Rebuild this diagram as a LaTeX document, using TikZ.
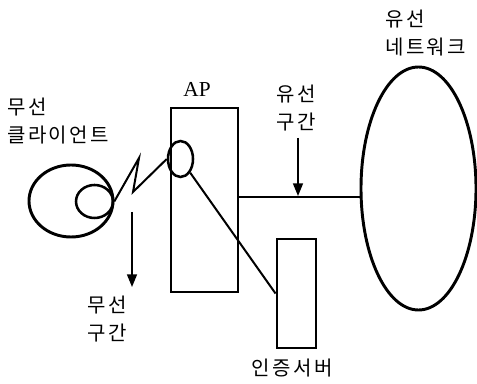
\documentclass[tikz,border=0pt]{standalone}
\usepackage{fontspec}
\setmainfont{Liberation Serif}
\newfontfamily\kr[LetterSpace=12]{Noto Sans CJK KR}
\usetikzlibrary{shapes.geometric,arrows.meta}
\tikzset{
  box/.style={draw, line width=2.2pt, inner sep=0pt},
  oval/.style={ellipse, draw, line width=2.2pt, inner sep=0pt},
  lbl/.style={font=\kr\fontsize{15}{21}\selectfont, align=left, inner sep=0pt},
  link/.style={line width=1.5pt},
  tip/.style={line width=1.2pt, -{Triangle[width=7.5pt,length=9.5pt]}}
}
\begin{document}
\begin{tikzpicture}[x=0.75pt, y=-0.75pt]
        \useasboundingbox (0,0) rectangle (477,384);

        % Client
        \node[oval, minimum width=63pt, minimum height=54pt] (client) at (71,201) {};
        \node[oval, line width=1.9pt, minimum width=27.75pt, minimum height=24.75pt] (card) at (94.5,201.5) {};
        \node[lbl, anchor=north west] (clientlbl) at (7,98) {무선\\클라이언트};

        % AP
        \node[box, minimum width=50.25pt, minimum height=138pt] (ap) at (204.5,200) {};
        \node[oval, line width=1.9pt, minimum width=18.75pt, minimum height=27pt] (ant) at (180.5,159) {};
        \node[font=\fontsize{16}{18}\selectfont, inner sep=0pt] (aplbl) at (197,89) {AP};

        % Server
        \node[box, minimum width=29.25pt, minimum height=81.75pt] (srv) at (296.5,293.5) {};
        \node[lbl] (srvlbl) at (292,368) {인증서버};

        % Network
        \node[oval, minimum width=86.25pt, minimum height=182.25pt] (net) at (418.5,188.5) {};
        \node[lbl, anchor=north west] (netlbl) at (385,10) {유선\\네트워크};

        % Links
        \coordinate (z1) at (139,158);
        \coordinate (z2) at (133,192);
        \draw[link] (card.east) -- (z1) -- (z2) -- (ant.west);
        \draw[link] (ant) -- (srv.west);
        \draw[line width=2.2pt] (ap.east |- 0,197) -- (net.west |- 0,197);

        % Sections
        \coordinate (w1) at (132,212);
        \coordinate (w2) at (132,287);
        \draw[tip] (w1) -- (w2);
        \node[lbl, anchor=north] (wlbl) at (107,296) {무선\\구간};

        \coordinate (c1) at (298,138);
        \coordinate (c2) at (298,196);
        \draw[tip] (c1) -- (c2);
        \node[lbl, anchor=south] (clbl) at (296,131) {유선\\구간};
\end{tikzpicture}
\end{document}
